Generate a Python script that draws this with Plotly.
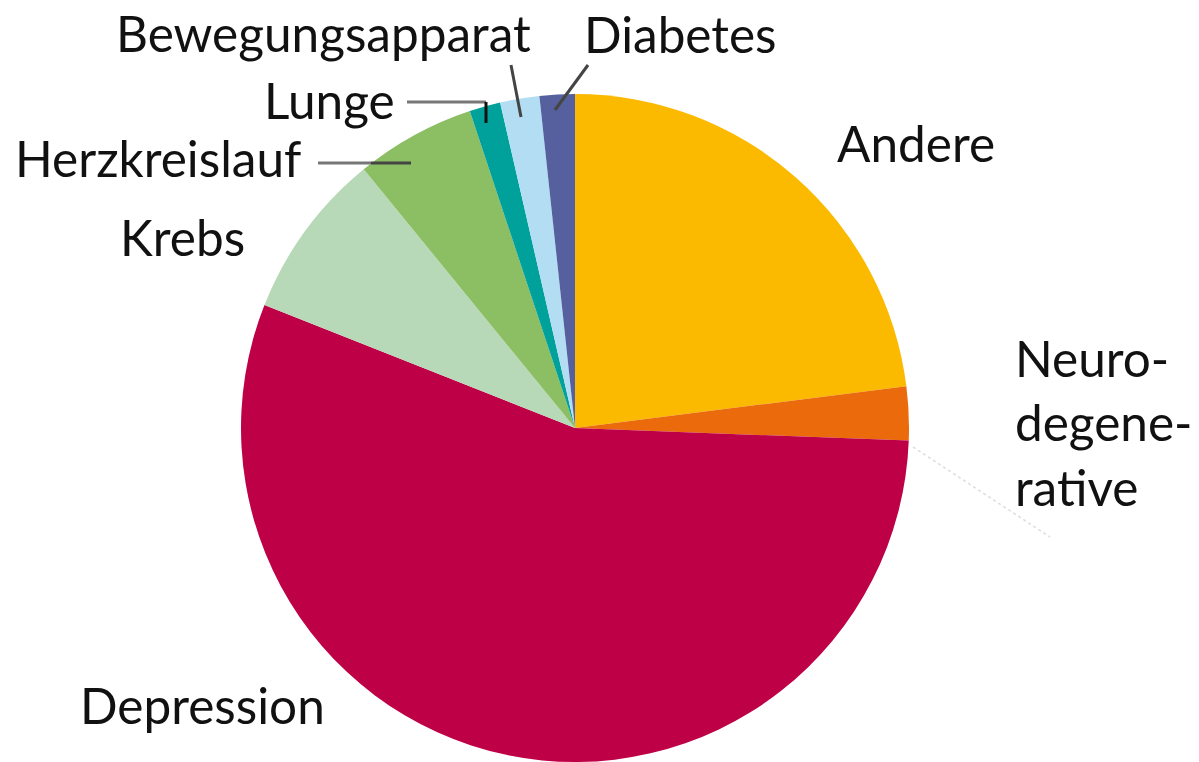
import plotly.graph_objects as go

# Data (percent shares, clockwise from 12 o'clock)
categories = ["Andere", "Neurodegenerative", "Depression", "Krebs",
              "Herzkreislauf", "Lunge", "Bewegungsapparat", "Diabetes"]
values = [23.0, 2.6, 55.4, 8.1, 5.8, 1.5, 1.9, 1.7]
colors = ["#FBBA00", "#EA6A0C", "#BE0046", "#B7D9B7",
          "#8CBE63", "#00A19B", "#B2DDF3", "#57609E"]

W, H = 1199, 762


def px(x):
    return x / W


def py(y):
    return 1 - y / H


CX, R = 575, 334

fig = go.Figure(go.Pie(
    labels=categories,
    values=values,
    sort=False,
    direction="clockwise",
    rotation=0,
    marker=dict(colors=colors, line=dict(width=0)),
    textinfo="none",
    hoverinfo="label+percent",
    showlegend=False,
    domain=dict(x=[px(CX - R), px(CX + R)], y=[0.0, py(H - 2 * R)]),
))

# label layout (pixel positions of the outside labels: text, x, cap-centre y, anchor)
label_layout = [
    ("Bewegungsapparat", 533, 33, "right"),
    ("Diabetes", 582, 34, "left"),
    ("Lunge", 397, 100, "right"),
    ("Herzkreislauf", 303, 158, "right"),
    ("Krebs", 247, 237, "right"),
    ("Andere", 835, 143, "left"),
    ("Neuro-<br>degene-<br>rative", 1013, 422, "left"),
    ("Depression", 78, 705, "left"),
]

anns = []
for text, x, y, anchor in label_layout:
    anns.append(dict(
        x=px(x), y=py(y), xref="paper", yref="paper",
        text=text, showarrow=False, xanchor=anchor, yanchor="middle",
        align="left",
        font=dict(family="Lato", size=49.5, color="#111111"),
    ))

leaders = [
    ((407, 102), (486, 102), "#777777", 3, "solid"),
    ((486, 102), (486, 123), "#111111", 3, "solid"),
    ((318, 163), (371, 163), "#777777", 3, "solid"),
    ((371, 163), (411, 163), "#444444", 3, "solid"),
    ((511, 65), (521, 117), "#444444", 3, "solid"),
    ((588, 65), (555, 110), "#444444", 3, "solid"),
    ((913, 447), (1050, 537), "#dddddd", 1.5, "dot"),
]
shapes = []
for (x0, y0), (x1, y1), c, w, d in leaders:
    shapes.append(dict(type="line", xref="paper", yref="paper",
                       x0=px(x0), y0=py(y0), x1=px(x1), y1=py(y1),
                       line=dict(color=c, width=w, dash=d)))

fig.update_layout(
    width=W, height=H,
    margin=dict(l=0, r=0, t=0, b=0),
    paper_bgcolor="white",
    plot_bgcolor="white",
    annotations=anns,
    shapes=shapes,
)

fig.write_html("out.html",
               config={"displayModeBar": False},
               post_script="document.body.style.margin='0';document.body.style.overflow='hidden';")
